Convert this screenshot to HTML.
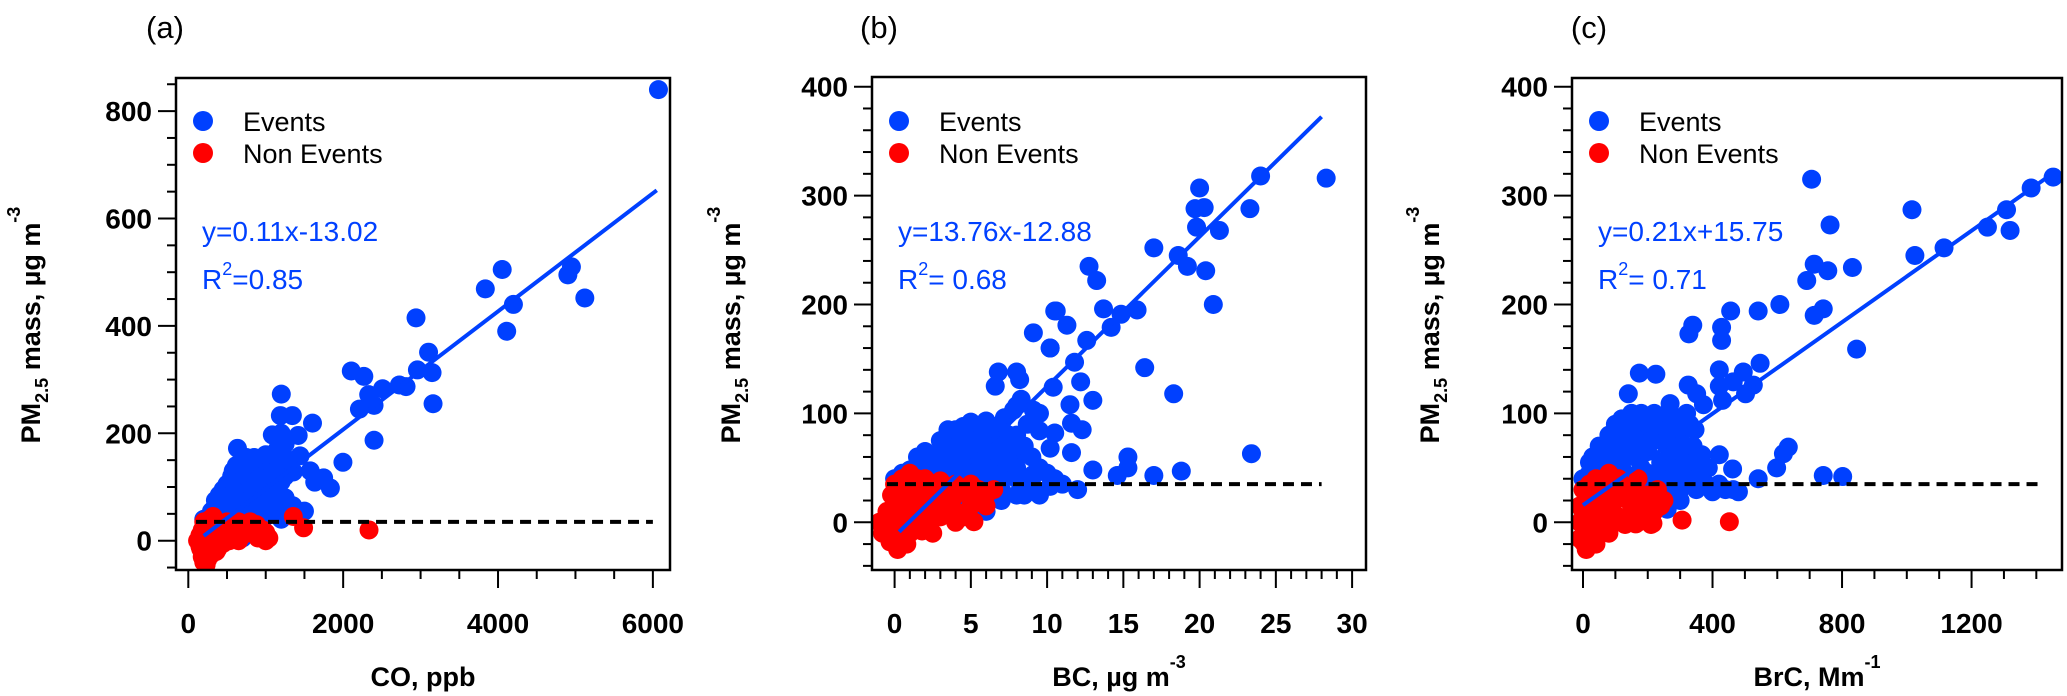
<!DOCTYPE html>
<html><head><meta charset="utf-8"><style>
html,body{margin:0;padding:0;background:#fff;}
svg{display:block;font-family:"Liberation Sans",Arial,sans-serif;}
</style></head><body>
<svg id="chart" width="2067" height="696" viewBox="0 0 2067 696" xmlns="http://www.w3.org/2000/svg"></svg>
<script>
// ---- Panel (a): CO vs PM2.5 ----
const aEvents = [[6072,840],[4948,510],[4902,495],[4054,505],[3836,469],[4199,440],[4112,390],[5121,452],[2941,415],[3103,351],[2959,318],[3148,313],[3161,255],[2812,287],[2726,290],[2509,283],[2330,272],[2399,252],[2210,245],[2267,306],[2105,316],[2399,187],[1997,146],[1835,98],[1748,117],[1633,109],[1575,130],[1604,219],[1344,233],[1201,273],[1189,233],[1419,196],[1085,197],[1443,158],[1356,128],[635,172],
[250,40],[300,55],[350,65],[400,70],[450,80],[500,90],[550,100],[600,110],[650,120],[700,130],[750,140],[800,145],[850,135],[900,140],[950,130],[1000,120],[1050,110],[400,45],[450,55],[500,60],[550,70],[600,80],[650,90],[700,95],[750,100],[800,110],[850,100],[900,95],[950,85],[1000,75],[600,50],[650,60],[700,70],[750,75],[800,80],[850,70],[900,60],[950,50],[1000,45],[700,40],[800,35],[900,30],[550,30],[500,25],[450,15],[600,20],[650,10],[700,5],[500,0],[350,30],[300,35],[250,20],[200,40],[580,130],[620,140],[560,120],[880,120],[920,110],[1100,140],[1050,150],[1000,160],[1150,130],[1100,90],[1180,60],[1250,80],[1350,65],[1500,55],[1400,50],[1300,55],
[350,45],[400,55],[450,65],[500,75],[550,85],[600,95],[650,105],[700,115],[750,120],[800,125],[850,120],[900,115],[950,105],[1000,95],[1050,90],[1100,120],[1150,100],[1200,110],[1250,120],[1300,150],[1250,180],[1150,170],[1200,200],[700,150],[750,155],[850,155],[650,140],[600,125],[550,110],[500,105],[450,95],[400,85],[350,75],[750,60],[850,50],[950,65],[1050,70],[1100,50],[1200,40]];
const aNonEvents = [[150,10],[150,-10],[180,-30],[200,-40],[220,-20],[250,-5],[250,15],[300,30],[280,40],[320,45],[350,20],[350,0],[380,-15],[400,10],[450,25],[500,35],[550,30],[600,25],[650,35],[700,30],[750,25],[800,35],[850,20],[900,15],[950,10],[1000,15],[500,10],[600,5],[650,0],[700,10],[450,-5],[300,-25],[250,-35],[400,-10],[550,15],[800,15],[900,5],[200,35],[180,20],[1356,45],[1489,24],[2334,20],[120,0],[160,-15],
[200,0],[220,10],[250,30],[300,10],[300,-5],[350,35],[380,25],[420,30],[480,20],[520,25],[580,20],[620,15],[680,20],[720,25],[760,15],[820,25],[880,30],[960,20],[1040,5],[200,-25],[230,-45],[270,-15],[330,-10],[360,-20],[420,0],[470,5],[530,0],[580,5],[1000,0]];
const aFit = [0.11,-13.02]; const aFitRange=[200,6050];
const aYTicks=[0,200,400,600,800]; const aXTicks=[0,2000,4000,6000];

// ---- Panel (b): BC vs PM2.5 ----
const bEvents = [[28.3,316],[24.0,318],[20.0,307],[20.3,289],[19.7,288],[23.3,288],[19.8,271],[21.3,268],[17.0,252],[18.6,245],[19.2,235],[20.4,231],[20.9,200],[12.75,235],[13.25,222],[13.7,196],[14.85,191],[15.9,195],[14.2,179],[10.6,194],[11.3,181],[12.6,167],[10.2,160],[11.8,147],[16.4,142],[18.3,118],[12.2,129],[13.0,112],[11.5,108],[10.4,124],[11.6,91],[12.3,85],[10.5,82],[11.6,64],[15.3,60],[15.3,50],[13.0,48],[14.6,43],[17.0,43],[18.8,47],[23.4,63],
[0,40],[0.5,45],[1,48],[1.5,50],[2,55],[2.5,60],[3,65],[3.5,70],[4,75],[4.5,80],[5,85],[5.5,82],[6,80],[6.5,75],[7,70],[7.5,65],[8,60],[2.5,40],[3,45],[3.5,50],[4,55],[4.5,60],[5,65],[5.5,70],[6,60],[6.5,55],[7,50],[7.5,45],[8,40],[8.5,35],[9,30],[9.5,25],[4,35],[5,40],[6,45],[5,30],[6,25],[7,30],[8,25],[3,30],[4,20],[5,15],[6,10],[7,20],[4.5,5],[3.5,10],[5.5,50],[6,70],[7,85],[3.5,85],[4.5,88],[6,93],[7.2,96],[7.8,103],[8.3,113],[8.0,107],[6.6,125],[6.8,138],[8.0,138],[8.2,131],[9.1,103],[9.5,84],[10.2,68],[9.1,44],[10.2,33],[8.5,25],[9.1,174],[10.2,160],[10.5,194],[2,25],[1.5,30],[3,20],
[1,40],[2,45],[3,55],[4,65],[5,75],[6,85],[7,90],[8,80],[8.5,70],[9,60],[9.5,50],[10,45],[7.5,55],[6.5,65],[5.5,60],[4.5,50],[3.5,40],[2.5,50],[4,45],[5,55],[6,50],[7,40],[8,50],[9,40],[10.5,40],[11,35],[12,30],[7,60],[8,70],[5,92],[6.5,88],[4,85],[3,75],[2,65],[1.5,60],[7.5,80],[8.7,90],[9.5,100]];
const bNonEvents = [[-1,0],[-0.8,-10],[-0.5,10],[-0.3,-18],[0,20],[0,-15],[0.2,30],[0.3,5],[0.5,-20],[0.5,40],[1,45],[1,-10],[1,15],[1.2,35],[1.5,0],[1.5,25],[2,10],[2,40],[2,-5],[2.5,20],[2.5,35],[3,5],[3,25],[3,38],[3.5,15],[3.5,30],[4,10],[4,25],[4.5,5],[4.5,28],[5,15],[5,25],[5.2,0.5],[5.5,20],[6,25],[6.5,30],[0.7,-5],[1.8,-8],
[-0.5,-5],[0,0],[0,35],[0.5,25],[0.5,10],[1,30],[1,0],[1.5,40],[1.5,12],[2,25],[2.5,5],[2.5,-10],[3,15],[3.5,22],[4,35],[4,0],[5,35],[5.5,30],[6,15],[0.2,-25],[-0.2,25],[0.8,-20]];
const bFit = [13.76,-12.88]; const bFitRange=[0.3,28];
const bYTicks=[0,100,200,300,400]; const bXTicks=[0,5,10,15,20,25,30];

// ---- Panel (c): BrC vs PM2.5 ----
const cEvents = [[1452,317],[1384,307],[1308,287],[1319,268],[1249,271],[1115,252],[1025,245],[1016,287],[706,315],[763,273],[832,234],[756,231],[714,237],[691,222],[608,200],[541,194],[456,194],[428,179],[428,167],[339,181],[327,173],[742,196],[714,190],[845,159],[547,146],[495,138],[421,140],[421,125],[431,112],[526,126],[502,118],[464,129],[174,137],[225,136],[140,118],[325,126],[351,118],[372,108],[269,109],[634,69],[619,63],[598,50],[742,43],[802,42],[541,40],[462,49],[421,62],[367,62],[387,50],[464,30],[346,85],
[0,40],[20,45],[40,50],[60,55],[80,60],[100,65],[120,70],[140,75],[160,80],[180,85],[200,90],[220,80],[240,75],[260,70],[280,65],[300,60],[320,55],[340,50],[50,70],[80,80],[110,85],[140,90],[160,95],[190,92],[120,55],[160,60],[200,65],[240,55],[280,45],[200,45],[150,40],[100,40],[60,45],[250,35],[300,30],[350,30],[400,28],[440,30],[480,28],[240,25],[220,20],[260,12],[200,30],[180,50],[300,80],[330,90],[270,100],[150,100],[250,98],
[30,60],[70,65],[90,75],[130,80],[170,70],[210,75],[230,90],[260,85],[120,95],[100,90],[180,100],[220,100],[290,95],[310,70],[270,50],[240,40],[180,35],[130,45],[90,50],[50,40],[20,55],[320,40],[360,40],[380,35],[420,35],[280,25],[300,20],[200,18],[160,20],[340,70],[320,100]];
const cNonEvents = [[-10,0],[-10,-15],[0,10],[0,-18],[10,25],[10,-5],[20,35],[30,15],[30,-10],[40,40],[50,20],[60,5],[60,30],[70,-5],[80,45],[90,15],[100,25],[110,5],[120,35],[130,-2],[140,20],[150,10],[160,30],[170,0],[180,15],[190,25],[200,5],[210,-2],[220,10],[240,15],[250,20],[216,-1],[306,2],[452,0.5],[163,-1.5],[40,-20],
[0,30],[20,5],[20,-12],[50,35],[50,0],[70,15],[90,35],[100,0],[110,40],[130,25],[140,5],[160,15],[170,40],[190,5],[200,25],[230,30],[80,-10],[10,-25],[-10,15]];
const cFit = [0.21,15.75]; const cFitRange=[0,1440];
const cYTicks=[0,100,200,300,400]; const cXTicks=[0,400,800,1200];

const threshold = 35;

const NS="http://www.w3.org/2000/svg";
const svg=document.getElementById('chart');
function mk(tag,attrs,parent){const e=document.createElementNS(NS,tag);for(const k in attrs)e.setAttribute(k,attrs[k]);(parent||svg).appendChild(e);return e;}

const panels=[
 {id:'a',label:'(a)',labelX:165,box:{l:176,t:78,r:670,b:570},x0:188.3,xs:0.07743,y0:540.7,ys:0.537,
  ev:aEvents,ne:aNonEvents,fit:aFit,fr:aFitRange,yt:aYTicks,xt:aXTicks,yMinor:50,xMinor:500,xMin:0,xMax:6000,yMin:-50,yMax:850,
  eq:'y=0.11x-13.02',r2:'=0.85',dash:[100,6000],titleX:'CO, ppb',titleXsup:'',ytX:31},
 {id:'b',label:'(b)',labelX:879,box:{l:872,t:77,r:1366,b:570},x0:894.6,xs:15.25,y0:522.3,ys:1.089,
  ev:bEvents,ne:bNonEvents,fit:bFit,fr:bFitRange,yt:bYTicks,xt:bXTicks,yMinor:20,xMinor:1,xMin:0,xMax:30,yMin:-40,yMax:400,
  eq:'y=13.76x-12.88',r2:'= 0.68',dash:[-0.5,28],titleX:'BC, µg m',titleXsup:'-3',ytX:731},
 {id:'c',label:'(c)',labelX:1589,box:{l:1572,t:78,r:2062,b:570},x0:1583,xs:0.3238,y0:522.3,ys:1.089,
  ev:cEvents,ne:cNonEvents,fit:cFit,fr:cFitRange,yt:cYTicks,xt:cXTicks,yMinor:20,xMinor:100,xMin:0,xMax:1400,yMin:-40,yMax:400,
  eq:'y=0.21x+15.75',r2:'= 0.71',dash:[-20,1420],titleX:'BrC, Mm',titleXsup:'-1',ytX:1430}
];
const BLUE='#0040ff', RED='#ff0000';

panels.forEach(p=>{
  const X=v=>p.x0+v*p.xs, Y=v=>p.y0-v*p.ys;
  const g=mk('g',{});
  
  
  const lab=mk('text',{x:p.labelX,y:38,'font-size':31,'text-anchor':'middle',fill:'#000'},g);
  lab.textContent=p.label;
  
  
  const clipId='clip-'+p.id;
  const cp=mk('clipPath',{id:clipId},g);
  mk('rect',{x:p.box.l,y:p.box.t,width:p.box.r-p.box.l,height:p.box.b-p.box.t},cp);
  const plot=mk('g',{'clip-path':'url(#'+clipId+')'},g);
  
  
  p.ev.forEach(d=>{
    const c=mk('circle',{cx:X(d[0]),cy:Y(d[1]),r:9.5,fill:BLUE},plot);
    
    
  });
  p.ne.forEach(d=>{
    const c=mk('circle',{cx:X(d[0]),cy:Y(d[1]),r:9.5,fill:RED},plot);
    
    
  });
  const fl=mk('line',{x1:X(p.fr[0]),y1:Y(p.fit[0]*p.fr[0]+p.fit[1]),x2:X(p.fr[1]),y2:Y(p.fit[0]*p.fr[1]+p.fit[1]),stroke:BLUE,'stroke-width':4},plot);
  
  
  const th=mk('line',{x1:X(p.dash[0]),y1:Y(threshold),x2:X(p.dash[1]),y2:Y(threshold),stroke:'#000','stroke-width':4,'stroke-dasharray':'11 7'},plot);
  
  
  const bx=mk('rect',{x:p.box.l,y:p.box.t,width:p.box.r-p.box.l,height:p.box.b-p.box.t,fill:'none',stroke:'#000','stroke-width':2.5},g);
  
  
  for(let v=Math.ceil(p.yMin/p.yMinor)*p.yMinor; v<=p.yMax; v+=p.yMinor){
    const yy=Y(v); if(yy<p.box.t||yy>p.box.b) continue;
    const major=p.yt.includes(v);
    mk('line',{x1:p.box.l-(major?18:9),x2:p.box.l,y1:yy,y2:yy,stroke:'#000','stroke-width':2},g);
  }
  p.yt.forEach(v=>{
    const t=mk('text',{x:p.box.l-24,y:Y(v)+10,'font-size':28,'font-weight':'bold','text-anchor':'end',fill:'#000'},g);
    t.textContent=v;
    
    
  });
  for(let v=p.xMin; v<=p.xMax+1e-9; v+=p.xMinor){
    const xx=X(v);
    const major=p.xt.some(t=>Math.abs(t-v)<1e-9);
    mk('line',{x1:xx,x2:xx,y1:p.box.b,y2:p.box.b+(major?18:9),stroke:'#000','stroke-width':2},g);
  }
  p.xt.forEach(v=>{
    const t=mk('text',{x:X(v),y:633,'font-size':28,'font-weight':'bold','text-anchor':'middle',fill:'#000'},g);
    t.textContent=v;
    
    
  });
  const xt=mk('text',{x:(p.box.l+p.box.r)/2,y:686,'font-size':27,'font-weight':'bold','text-anchor':'middle',fill:'#000'},g);
  
  
  xt.appendChild(document.createTextNode(p.titleX));
  if(p.titleXsup){const s=mk('tspan',{'font-size':18,dy:-18},xt);s.textContent=p.titleXsup;}
  const yt=mk('text',{transform:'translate('+(p.ytX+9)+',325) rotate(-90)','font-size':27,'font-weight':'bold','text-anchor':'middle',fill:'#000'},g);
  
  
  yt.appendChild(document.createTextNode('PM'));
  const sb=mk('tspan',{'font-size':18,dy:8},yt); sb.textContent='2.5';
  const rest=mk('tspan',{dy:-8},yt); rest.textContent=' mass, µg m';
  const sp=mk('tspan',{'font-size':18,dy:-20},yt); sp.textContent='-3';
  const lg=mk('g',{},g);
  
  
  const lx=p.box.l+27;
  mk('circle',{cx:lx,cy:121,r:10,fill:BLUE},lg);
  const t1=mk('text',{x:p.box.l+67,y:131,'font-size':27,fill:'#000'},lg); t1.textContent='Events';
  
  
  mk('circle',{cx:lx,cy:153,r:10,fill:RED},lg);
  const t2=mk('text',{x:p.box.l+67,y:163,'font-size':27,fill:'#000'},lg); t2.textContent='Non Events';
  
  
  const eq=mk('text',{x:p.box.l+26,y:241,'font-size':28,fill:BLUE},g); eq.textContent=p.eq;
  
  
  const r2=mk('text',{x:p.box.l+26,y:289,'font-size':28,fill:BLUE},g);
  
  
  r2.appendChild(document.createTextNode('R'));
  const s2=mk('tspan',{'font-size':18,dy:-14},r2); s2.textContent='2';
  const s3=mk('tspan',{dy:14},r2); s3.textContent=p.r2;
});
</script>
</body></html>
